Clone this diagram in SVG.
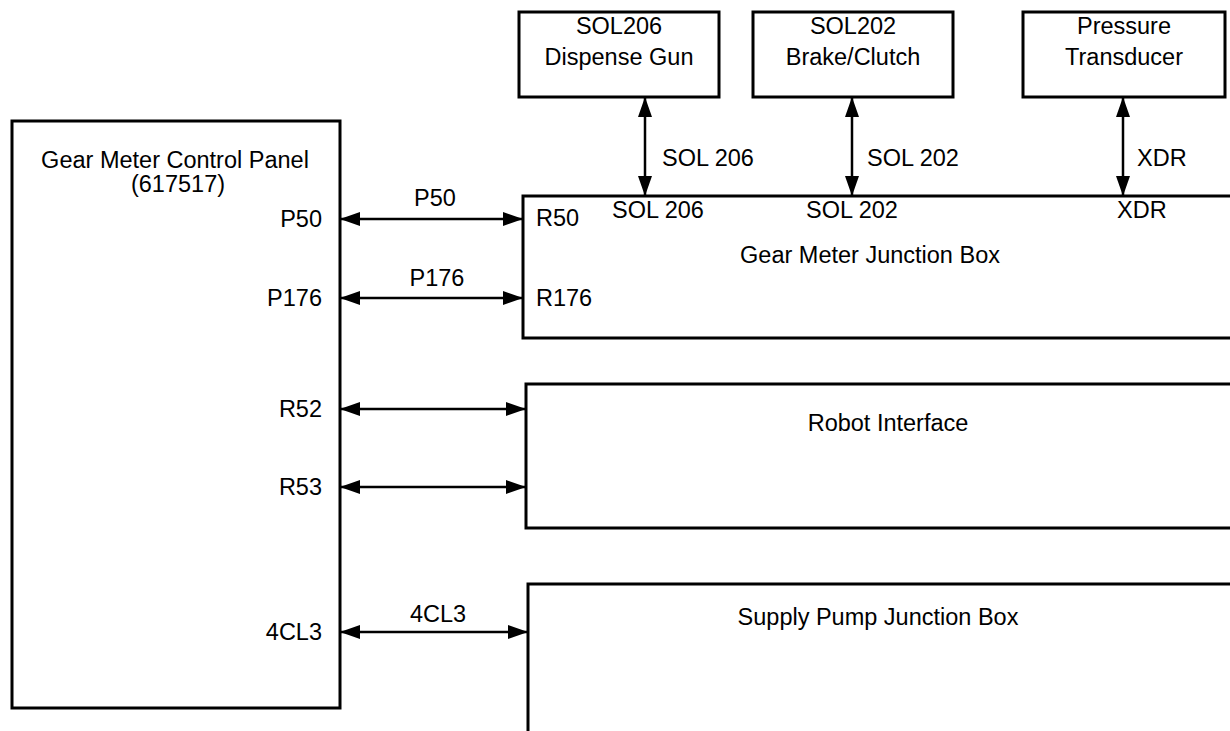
<svg xmlns="http://www.w3.org/2000/svg" width="1230" height="731" viewBox="0 0 1230 731">
<style>
text{font-family:"Liberation Sans",Arial,sans-serif;font-size:23.5px;fill:#000}
.m{text-anchor:middle}
.e{text-anchor:end}
.box{fill:none;stroke:#000;stroke-width:3}
.c{stroke:#000;stroke-width:2.5;fill:none;marker-start:url(#ah);marker-end:url(#ah)}
</style>
<defs>
<marker id="ah" viewBox="0 0 20 14" refX="20" refY="7" markerWidth="20" markerHeight="14" markerUnits="userSpaceOnUse" orient="auto-start-reverse">
<path d="M0,0 L20,7 L0,14 z" fill="#000"/>
</marker>
</defs>
<rect width="1230" height="731" fill="#fff"/>
<g id="control-panel">
<rect class="box" x="12" y="121" width="328" height="587"/>
<text class="m" x="175" y="168">Gear Meter Control Panel</text>
<text class="m" x="178" y="192">(617517)</text>
<text class="e" x="322" y="227">P50</text>
<text class="e" x="322" y="306">P176</text>
<text class="e" x="322" y="417">R52</text>
<text class="e" x="322" y="495">R53</text>
<text class="e" x="322" y="640">4CL3</text>
</g>
<g id="sol206">
<rect class="box" x="519" y="12" width="200" height="85"/>
<text class="m" x="619" y="34">SOL206</text>
<text class="m" x="619" y="65">Dispense Gun</text>
</g>
<g id="sol202">
<rect class="box" x="753" y="12" width="200" height="85"/>
<text class="m" x="853" y="34">SOL202</text>
<text class="m" x="853" y="65">Brake/Clutch</text>
</g>
<g id="pressure">
<rect class="box" x="1023" y="12" width="202" height="85"/>
<text class="m" x="1124" y="34">Pressure</text>
<text class="m" x="1124" y="65">Transducer</text>
</g>
<g id="junction-box">
<path class="box" d="M1230,196 H523 V338 H1230"/>
<text class="m" x="870" y="263">Gear Meter Junction Box</text>
<text x="536" y="226">R50</text>
<text x="536" y="306">R176</text>
<text x="612" y="218">SOL 206</text>
<text x="806" y="218">SOL 202</text>
<text x="1117" y="218">XDR</text>
</g>
<g id="robot-interface">
<path class="box" d="M1230,384 H526 V528 H1230"/>
<text class="m" x="888" y="431">Robot Interface</text>
</g>
<g id="supply-pump">
<path class="box" d="M1230,584 H528 V731"/>
<text class="m" x="878" y="625">Supply Pump Junction Box</text>
</g>
<g id="connectors">
<path class="c" d="M340,219 H523"/>
<path class="c" d="M340,298 H523"/>
<path class="c" d="M340,409 H526"/>
<path class="c" d="M340,487 H526"/>
<path class="c" d="M340,632 H528"/>
<path class="c" d="M645,97 V196"/>
<path class="c" d="M852,97 V196"/>
<path class="c" d="M1123,97 V196"/>
<text class="m" x="435" y="206">P50</text>
<text class="m" x="437" y="286">P176</text>
<text class="m" x="438" y="622">4CL3</text>
<text x="662" y="166">SOL 206</text>
<text x="867" y="166">SOL 202</text>
<text x="1137" y="166">XDR</text>
</g>
</svg>
